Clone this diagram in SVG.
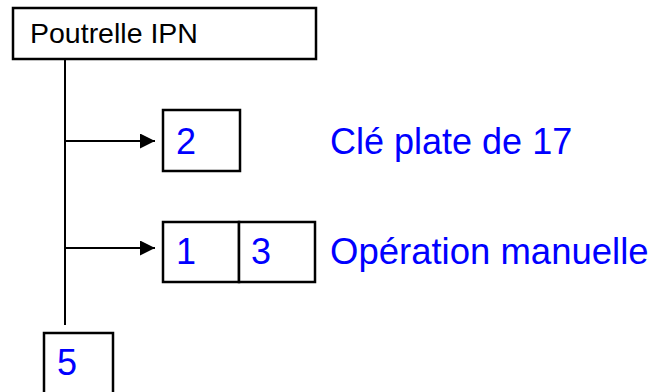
<svg xmlns="http://www.w3.org/2000/svg" width="656" height="392" viewBox="0 0 656 392">
  <style>
    .box { fill: #ffffff; stroke: #000000; stroke-width: 2.5; }
    .wire { fill: none; stroke: #000000; stroke-width: 2; }
    .title { font-family: "Liberation Sans", Arial, sans-serif; font-size: 28.5px; fill: #000000; }
    .num { font-family: "Liberation Sans", Arial, sans-serif; font-size: 36px; fill: #0000ff; }
    .wide { font-size: 36.5px; }
  </style>
  <defs>
    <marker id="arrow" markerUnits="userSpaceOnUse" markerWidth="16" markerHeight="16" refX="15" refY="7.5" orient="auto">
      <path d="M0,0 L15,7.5 L0,15 Z" fill="#000000"/>
    </marker>
  </defs>

  <g id="connectors">
    <line class="wire" x1="65" y1="59" x2="65" y2="325"/>
    <line class="wire" x1="65" y1="141" x2="155" y2="141" marker-end="url(#arrow)"/>
    <line class="wire" x1="65" y1="248" x2="155" y2="248" marker-end="url(#arrow)"/>
  </g>

  <g id="poutrelle">
    <rect class="box" x="13" y="8" width="303" height="51"/>
    <text class="title" x="30" y="43">Poutrelle IPN</text>
  </g>

  <g id="step-2">
    <rect class="box" x="163" y="110" width="77" height="61"/>
    <text class="num" x="176" y="154">2</text>
    <text class="num" x="330" y="154">Clé plate de 17</text>
  </g>

  <g id="step-1-3">
    <rect class="box" x="163" y="222" width="76" height="60"/>
    <rect class="box" x="239" y="222" width="76" height="60"/>
    <text class="num" x="176" y="264">1</text>
    <text class="num" x="251" y="264">3</text>
    <text class="num wide" x="330" y="264">Opération manuelle</text>
  </g>

  <g id="step-5">
    <rect class="box" x="44" y="333" width="69" height="64"/>
    <text class="num" x="57" y="375">5</text>
  </g>
</svg>
